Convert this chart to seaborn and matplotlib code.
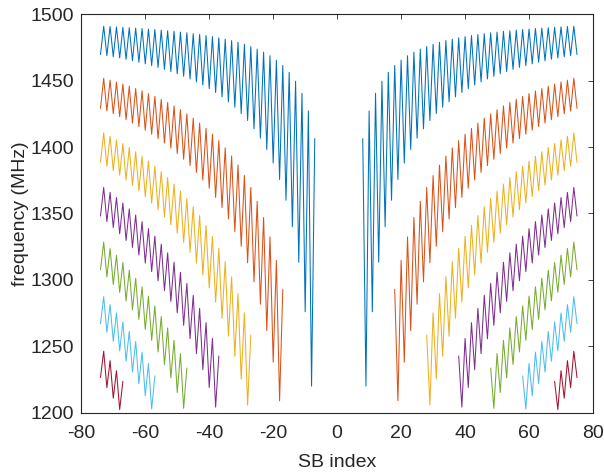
import matplotlib
matplotlib.use("Agg")
import matplotlib.pyplot as plt
import seaborn as sns
import pandas as pd

# Left-side values (SB index -74 ... inner end), frequency in MHz.
# The right half of the chart is the mirror image (SB index s <-> 1 - s).
blue_left = [1469.7, 1491.0, 1468.9, 1490.8, 1468.0, 1490.5, 1467.1, 1490.2, 1466.1, 1489.9,
             1465.0, 1489.6, 1463.9, 1489.3, 1462.7, 1488.9, 1461.4, 1488.5, 1460.0, 1488.1,
             1458.5, 1487.6, 1456.9, 1487.2, 1455.2, 1486.6, 1453.3, 1486.1, 1451.3, 1485.4,
             1449.1, 1484.8, 1446.7, 1484.0, 1444.0, 1483.2, 1441.1, 1482.3, 1437.8, 1481.3,
             1434.1, 1480.2, 1430.0, 1478.9, 1425.3, 1477.4, 1420.0, 1475.7, 1413.8, 1473.8,
             1406.7, 1471.5, 1398.2, 1468.8, 1388.0, 1465.5, 1375.6, 1461.5, 1360.0, 1456.3,
             1340.0, 1449.6, 1313.3, 1440.5, 1276.0, 1427.2, 1220.0, 1406.4]
orange_left = [1429.2, 1451.8, 1427.2, 1450.4, 1425.1, 1449.0, 1422.9, 1447.5, 1420.6, 1445.8,
               1418.1, 1444.1, 1415.5, 1442.3, 1412.7, 1440.3, 1409.7, 1438.2, 1406.4, 1436.0,
               1403.0, 1433.6, 1399.2, 1431.0, 1395.2, 1428.2, 1390.8, 1425.1, 1386.1, 1421.8,
               1380.9, 1418.1, 1375.2, 1414.1, 1369.0, 1409.7, 1362.1, 1404.9, 1354.4, 1399.4,
               1345.9, 1393.3, 1336.3, 1386.5, 1325.3, 1378.6, 1312.9, 1369.6, 1298.5, 1359.2,
               1281.7, 1347.0, 1261.8, 1332.4, 1238.0, 1314.7, 1208.9, 1292.9]
yellow_left = [1388.6, 1410.7, 1385.6, 1408.2, 1382.3, 1405.5, 1378.8, 1402.7, 1375.2, 1399.7,
               1371.3, 1396.5, 1367.1, 1393.1, 1362.7, 1389.5, 1357.9, 1385.6, 1352.9, 1381.5,
               1347.4, 1377.0, 1341.5, 1372.2, 1335.2, 1366.9, 1328.3, 1361.3, 1320.9, 1355.1,
               1312.7, 1348.4, 1303.8, 1341.0, 1294.0, 1332.8, 1283.2, 1323.8, 1271.1, 1313.7,
               1257.6, 1302.4, 1242.5, 1289.7, 1225.3, 1275.2, 1205.7, 1258.5]
purple_left = [1348.1, 1369.6, 1343.9, 1365.9, 1339.4, 1362.0, 1334.7, 1357.9, 1329.7, 1353.5,
               1324.4, 1348.9, 1318.7, 1343.9, 1312.7, 1338.6, 1306.2, 1333.0, 1299.3, 1326.9,
               1291.9, 1320.4, 1283.8, 1313.3, 1275.2, 1305.7, 1265.8, 1297.4, 1255.7, 1288.4,
               1244.5, 1278.6, 1232.4, 1267.8, 1219.0, 1255.9, 1204.2, 1242.7]
green_left = [1307.6, 1328.5, 1302.2, 1323.7, 1296.6, 1318.6, 1290.6, 1313.1, 1284.2, 1307.4,
              1277.5, 1301.3, 1270.3, 1294.8, 1262.7, 1287.8, 1254.5, 1280.4, 1245.7, 1272.4,
              1236.3, 1263.8, 1226.2, 1254.5, 1215.2, 1244.5, 1203.3, 1233.6]
lightblue_left = [1267.0, 1287.4, 1260.6, 1281.4, 1253.7, 1275.1, 1246.5, 1268.4, 1238.8, 1261.2,
                  1230.6, 1253.7, 1221.9, 1245.6, 1212.7, 1237.0, 1202.8, 1227.7]
red_left = [1226.5, 1246.3, 1218.9, 1239.2, 1210.9, 1231.6, 1202.4, 1223.6]

series = [blue_left, orange_left, yellow_left, purple_left, green_left, lightblue_left, red_left]
colors = ["#0072BD", "#D95319", "#EDB120", "#7E2F8E", "#77AC30", "#4DBEEE", "#A2142F"]
first_sb = -74

x_ticks = [-80, -60, -40, -20, 0, 20, 40, 60, 80]
y_ticks = [1200, 1250, 1300, 1350, 1400, 1450, 1500]

sns.set_style("white")
plt.rcParams["font.family"] = ["Liberation Sans", "DejaVu Sans"]

fig = plt.figure(figsize=(6.04, 4.73), dpi=100)
ax = fig.add_axes([81.3 / 604, 1 - 412.7 / 473, (593 - 81.3) / 604, (412.7 - 14.3) / 473])

for vals, col in zip(series, colors):
    n_left = list(range(first_sb, first_sb + len(vals)))
    left = pd.DataFrame({"sb": n_left, "f": vals})
    right = pd.DataFrame({"sb": [1 - s for s in n_left[::-1]], "f": vals[::-1]})
    for df in (left, right):
        sns.lineplot(data=df, x="sb", y="f", color=col, linewidth=0.75,
                     estimator=None, sort=False, ax=ax)

ax.set_xlim(-80, 80)
ax.set_ylim(1200, 1500)
ax.set_xticks(x_ticks)
ax.set_yticks(y_ticks)
ax.set_xticklabels([str(t) for t in x_ticks])
ax.set_yticklabels([str(t) for t in y_ticks])
ax.set_xlabel("SB index", fontsize=14, color="#262626", labelpad=9)
ax.set_ylabel("frequency (MHz)", fontsize=14, color="#262626", labelpad=1.5)
ax.tick_params(axis="x", direction="in", top=True, length=3.8, width=0.6,
               labelsize=14, colors="#262626", pad=8.5)
ax.tick_params(axis="y", direction="in", right=True, length=3.8, width=0.6,
               labelsize=14, colors="#262626", pad=5)
for sp in ax.spines.values():
    sp.set_visible(True)
    sp.set_color("#262626")
    sp.set_linewidth(0.8)

fig.savefig("out.png", dpi=100, facecolor="white")
